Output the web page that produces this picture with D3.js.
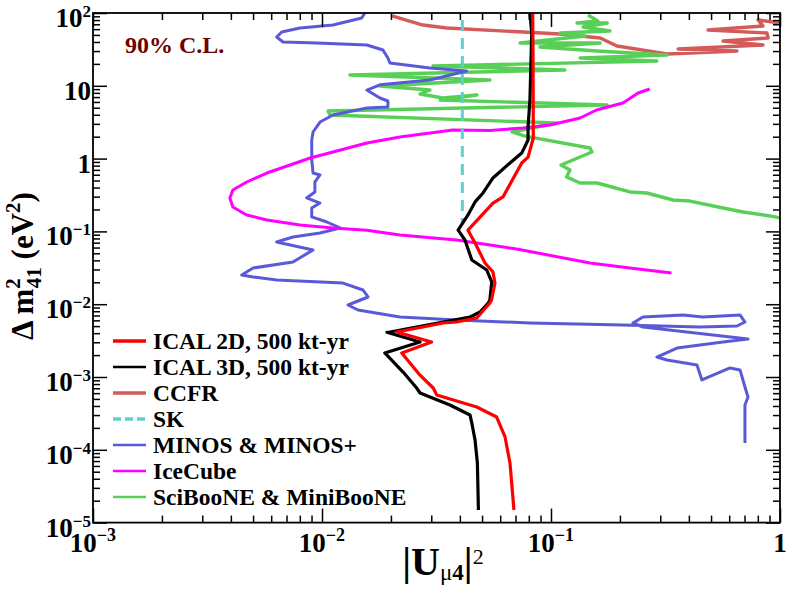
<!DOCTYPE html>
<html><head><meta charset="utf-8">
<script src="https://cdn.jsdelivr.net/npm/d3@7"></script>
<style>
body{margin:0;background:#fff;}
svg{display:block;}
text{font-family:"Liberation Serif","Times New Roman",serif;font-weight:bold;}
</style></head><body>
<svg id="c" width="789" height="590"></svg>
<script>
// ---- data: [|U_mu4|^2, Delta m^2_41 (eV^2)] ----
const ical2D = [[0.0832,100],[0.0835,22.6],[0.0837,1.92],[0.0794,1.05],[0.0745,0.871],[0.0617,0.297],[0.0558,0.245],[0.0434,0.104],[0.0466,0.0693],[0.0515,0.0368],[0.0558,0.0277],[0.0569,0.0195],[0.0550,0.01143],[0.0541,0.0104],[0.0474,0.00646],[0.0387,0.00569],[0.0338,0.00552],[0.0276,0.00486],[0.0212,0.00415],[0.0301,0.00303],[0.0223,0.00214],[0.0268,0.00106],[0.0306,0.000706],[0.0317,0.000566],[0.0474,0.000387],[0.0579,0.000282],[0.0630,0.000150],[0.0662,6.59e-5],[0.0689,1.49e-5]];
const ical3D = [[0.0809,100],[0.0824,53.1],[0.0809,6.38],[0.0794,2.72],[0.0794,1.80],[0.0745,1.19],[0.0662,0.871],[0.0558,0.542],[0.0505,0.337],[0.0466,0.254],[0.0434,0.168],[0.0393,0.104],[0.0421,0.0762],[0.0451,0.0405],[0.0524,0.0295],[0.0551,0.0202],[0.0541,0.01143],[0.0532,0.0104],[0.0490,0.00782],[0.0443,0.00667],[0.0338,0.00569],[0.0198,0.00415],[0.0192,0.00412],[0.0268,0.00303],[0.0188,0.00214],[0.0226,0.00117],[0.0259,0.000706],[0.0268,0.000603],[0.0362,0.000412],[0.0443,0.000301],[0.0451,0.000233],[0.0466,0.000136],[0.0477,6.59e-5],[0.0482,1.49e-5]];
const ccfr = [[0.0202,91.0],[0.0276,68.4],[0.0351,62.2],[0.0755,54.8],[0.1095,51.5],[0.164,45.4],[0.194,35.2],[0.321,27.4],[0.649,30.1],[0.359,32.0],[0.843,36.3],[0.564,41.2],[0.887,45.4],[0.877,53.1],[0.485,58.4],[0.843,66.3],[0.802,80.1],[1.0,72.9]];
const sk = [[0.041,80],[0.041,0.13]];
const minos = [[0.0154,100],[0.0149,85.4],[0.01117,68.4],[0.00802,62.2],[0.00667,54.8],[0.00634,46.8],[0.00676,40.0],[0.00948,38.7],[0.0157,36.3],[0.01846,31.0],[0.0194,24.1],[0.0198,20.6],[0.0296,17.6],[0.0428,16.0],[0.0296,12.0],[0.0179,10.3],[0.0157,8.75],[0.0179,6.80],[0.0194,6.18],[0.0194,5.12],[0.0157,4.95],[0.01117,3.97],[0.00980,3.18],[0.00914,2.32],[0.00902,1.80],[0.00902,0.957],[0.00914,0.634],[0.00980,0.596],[0.00931,0.477],[0.00931,0.348],[0.00857,0.288],[0.00980,0.245],[0.00902,0.2096],[0.00902,0.158],[0.0105,0.1346],[0.01198,0.1114],[0.00980,0.0951],[0.00747,0.0838],[0.00634,0.0715],[0.00914,0.0556],[0.00747,0.0380],[0.00500,0.0314],[0.00446,0.0252],[0.00500,0.0237],[0.00634,0.0215],[0.01235,0.0195],[0.0151,0.01567],[0.01588,0.01256],[0.01299,0.00975],[0.01436,0.00832],[0.0219,0.00667],[0.0389,0.00607],[0.0809,0.00552],[0.206,0.00518],[0.448,0.00486],[0.649,0.00502],[0.703,0.00569],[0.669,0.00711],[0.461,0.00667],[0.377,0.00711],[0.252,0.00667],[0.228,0.00552],[0.252,0.00486],[0.725,0.00333],[0.564,0.00303],[0.355,0.00250],[0.290,0.00188],[0.321,0.00171],[0.434,0.00146],[0.456,0.000910],[0.605,0.00133],[0.669,0.00125],[0.703,0.000729],[0.725,0.000531],[0.703,0.000412],[0.703,0.000124]];
const icecube = [[0.270,9.03],[0.240,7.96],[0.206,5.80],[0.158,4.65],[0.134,3.61],[0.099,2.90],[0.0755,2.63],[0.0541,2.44],[0.0373,2.47],[0.0219,1.98],[0.0157,1.64],[0.01117,1.23],[0.00888,1.02],[0.00725,0.817],[0.00574,0.634],[0.00469,0.477],[0.00408,0.371],[0.00396,0.288],[0.00408,0.216],[0.00469,0.168],[0.00574,0.1435],[0.00802,0.1225],[0.01117,0.1114],[0.0157,0.104],[0.0219,0.0893],[0.0387,0.0762],[0.0708,0.0573],[0.148,0.0368],[0.221,0.0314],[0.336,0.0268]];
const sciboone = [[0.145,93.9],[0.160,77.6],[0.130,72.9],[0.176,72.9],[0.138,64.2],[0.181,56.6],[0.1095,53.1],[0.141,48.3],[0.0733,38.7],[0.164,38.7],[0.0895,34.1],[0.159,30.1],[0.321,26.5],[0.134,24.1],[0.290,21.9],[0.0305,18.7],[0.115,16.5],[0.01325,14.1],[0.0541,12.0],[0.0179,9.94],[0.0296,8.75],[0.0268,7.71],[0.0338,6.80],[0.0475,7.48],[0.0328,6.38],[0.176,5.45],[0.01062,4.51],[0.01084,3.97],[0.1062,3.08],[0.0676,2.32],[0.0770,2.04],[0.148,1.40],[0.151,1.23],[0.1106,0.817],[0.121,0.697],[0.117,0.559],[0.134,0.462],[0.159,0.462],[0.221,0.348],[0.262,0.337],[0.341,0.270],[0.405,0.261],[0.564,0.2096],[0.689,0.1846],[0.904,0.163],[1.0,0.153]];

const legendLabels = ["ICAL 2D, 500 kt-yr","ICAL 3D, 500 kt-yr","CCFR","SK","MINOS & MINOS+","IceCube","SciBooNE & MiniBooNE"];
const xTickValues = [1e-3,1e-2,1e-1,1];
const xTickBase = ["10","10","10","1"];
const xTickExp = ["\u22123","\u22122","\u22121",""];
const yTickValues = [1e2,1e1,1,1e-1,1e-2,1e-3,1e-4,1e-5];
const yTickBase = ["10","10","1","10","10","10","10","10"];
const yTickExp = ["2","","","\u22121","\u22122","\u22123","\u22124","\u22125"];
const clText = "90% C.L.";

// ---- styles ----
const seriesData = [ical2D, ical3D, ccfr, sk, minos, icecube, sciboone];
const seriesStyle = [
  {color:"#ff0000", w:3.2, dash:null, lw:3.5},
  {color:"#000000", w:3.2, dash:null, lw:2.5},
  {color:"#d35c5a", w:3.4, dash:null, lw:3.5},
  {color:"#5fcfcf", w:3.0, dash:"11,7", lw:3.5, ldash:"8,4"},
  {color:"#5a5ad8", w:3.0, dash:null, lw:2.5},
  {color:"#ff00ff", w:3.0, dash:null, lw:2.5},
  {color:"#58d058", w:3.4, dash:null, lw:2.5}
];
const drawOrder = [2,6,4,5,3,1,0];

const svg = d3.select("#c");
const L=93, R=780, T=13, B=522.6;
const x = d3.scaleLog().domain([1e-3,1]).range([L,R]);
const y = d3.scaleLog().domain([1e-5,1e2]).range([B,T]);

svg.append("defs").append("clipPath").attr("id","clip")
  .append("rect").attr("x",L).attr("y",T).attr("width",R-L).attr("height",B-T);

// curves
const line = d3.line().x(d=>x(d[0])).y(d=>y(d[1]));
const cg = svg.append("g").attr("clip-path","url(#clip)");
drawOrder.forEach(i=>{
  const s = seriesStyle[i];
  cg.append("path").datum(seriesData[i])
    .attr("d", line).attr("fill","none")
    .attr("stroke", s.color).attr("stroke-width", s.w)
    .attr("stroke-linejoin","round")
    .attr("stroke-dasharray", s.dash);
});

// ticks
const isMajor = v => Math.abs(Math.log10(v) - Math.round(Math.log10(v))) < 1e-6;
const xAll = x.ticks(), yAll = y.ticks();
const xMaj = xAll.filter(isMajor), xMin = xAll.filter(v=>!isMajor(v));
const yMaj = yAll.filter(isMajor), yMin = yAll.filter(v=>!isMajor(v));
function axisG(axis, tr){
  const g = svg.append("g").attr("transform", tr).call(axis);
  g.select(".domain").remove();
  g.selectAll("line").attr("stroke","#000").attr("stroke-width",1.5);
  g.selectAll("text").remove();
}
axisG(d3.axisBottom(x).tickValues(xMaj).tickSizeInner(-14).tickSizeOuter(0).tickFormat(""), `translate(0,${B})`);
axisG(d3.axisBottom(x).tickValues(xMin).tickSizeInner(-7).tickSizeOuter(0).tickFormat(""), `translate(0,${B})`);
axisG(d3.axisTop(x).tickValues(xMaj).tickSizeInner(-14).tickSizeOuter(0).tickFormat(""), `translate(0,${T})`);
axisG(d3.axisTop(x).tickValues(xMin).tickSizeInner(-7).tickSizeOuter(0).tickFormat(""), `translate(0,${T})`);
axisG(d3.axisLeft(y).tickValues(yMaj).tickSizeInner(-14).tickSizeOuter(0).tickFormat(""), `translate(${L},0)`);
axisG(d3.axisLeft(y).tickValues(yMin).tickSizeInner(-7).tickSizeOuter(0).tickFormat(""), `translate(${L},0)`);
axisG(d3.axisRight(y).tickValues(yMaj).tickSizeInner(-14).tickSizeOuter(0).tickFormat(""), `translate(${R},0)`);
axisG(d3.axisRight(y).tickValues(yMin).tickSizeInner(-7).tickSizeOuter(0).tickFormat(""), `translate(${R},0)`);

// frame
svg.append("rect").attr("x",L).attr("y",T).attr("width",R-L).attr("height",B-T)
  .attr("fill","none").attr("stroke","#000").attr("stroke-width",1.8);

// tick labels
xTickValues.forEach((v,i)=>{
  const t = svg.append("text").attr("x", x(v)).attr("y", 552)
    .attr("text-anchor","middle").style("font-size","27px");
  t.append("tspan").text(xTickBase[i]);
  if (xTickExp[i]) t.append("tspan").attr("dy",-11).style("font-size","18px").text(xTickExp[i]);
});
yTickValues.forEach((v,i)=>{
  const t = svg.append("text").attr("x", 91).attr("y", y(v)+14)
    .attr("text-anchor","end").style("font-size","27px");
  t.append("tspan").text(yTickBase[i]);
  if (yTickExp[i]) t.append("tspan").attr("dy",-10).style("font-size","17px").text(yTickExp[i]);
});

// axis titles
const yt = svg.append("text").attr("transform","translate(33,266) rotate(-90)")
  .attr("text-anchor","middle").style("font-size","31px");
yt.append("tspan").text("\u0394 m");
yt.append("tspan").attr("dy",-13).style("font-size","21px").text("2");
yt.append("tspan").attr("dx",-10).attr("dy",21).style("font-size","21px").text("41");
yt.append("tspan").attr("dy",-8).text(" (eV");
yt.append("tspan").attr("dy",-13).style("font-size","21px").text("2");
yt.append("tspan").attr("dy",13).text(")");

const xt = svg.append("text").attr("x",443).attr("y",575)
  .attr("text-anchor","middle").style("font-size","40px");
xt.append("tspan").text("|U");
xt.append("tspan").attr("dy",5).style("font-size","23px").style("font-weight","normal").text("\u03bc");
xt.append("tspan").style("font-size","23px").text("4");
xt.append("tspan").attr("dy",-5).text("|");
xt.append("tspan").attr("dy",-11).style("font-size","22px").style("font-weight","normal").text("2");

// CL label
svg.append("text").attr("x",125).attr("y",53).style("font-size","24px")
  .attr("fill","#700000").text(clText);

// legend
const lg = svg.append("g");
legendLabels.forEach((lab,i)=>{
  const cy = 341 + i*26;
  const s = seriesStyle[i];
  lg.append("line").attr("x1",113).attr("x2",146).attr("y1",cy).attr("y2",cy)
    .attr("stroke",s.color).attr("stroke-width",s.lw)
    .attr("stroke-dasharray", s.ldash || null);
  lg.append("text").attr("x",153).attr("y",cy+8).style("font-size","23.5px").text(lab);
});
</script>
</body></html>
